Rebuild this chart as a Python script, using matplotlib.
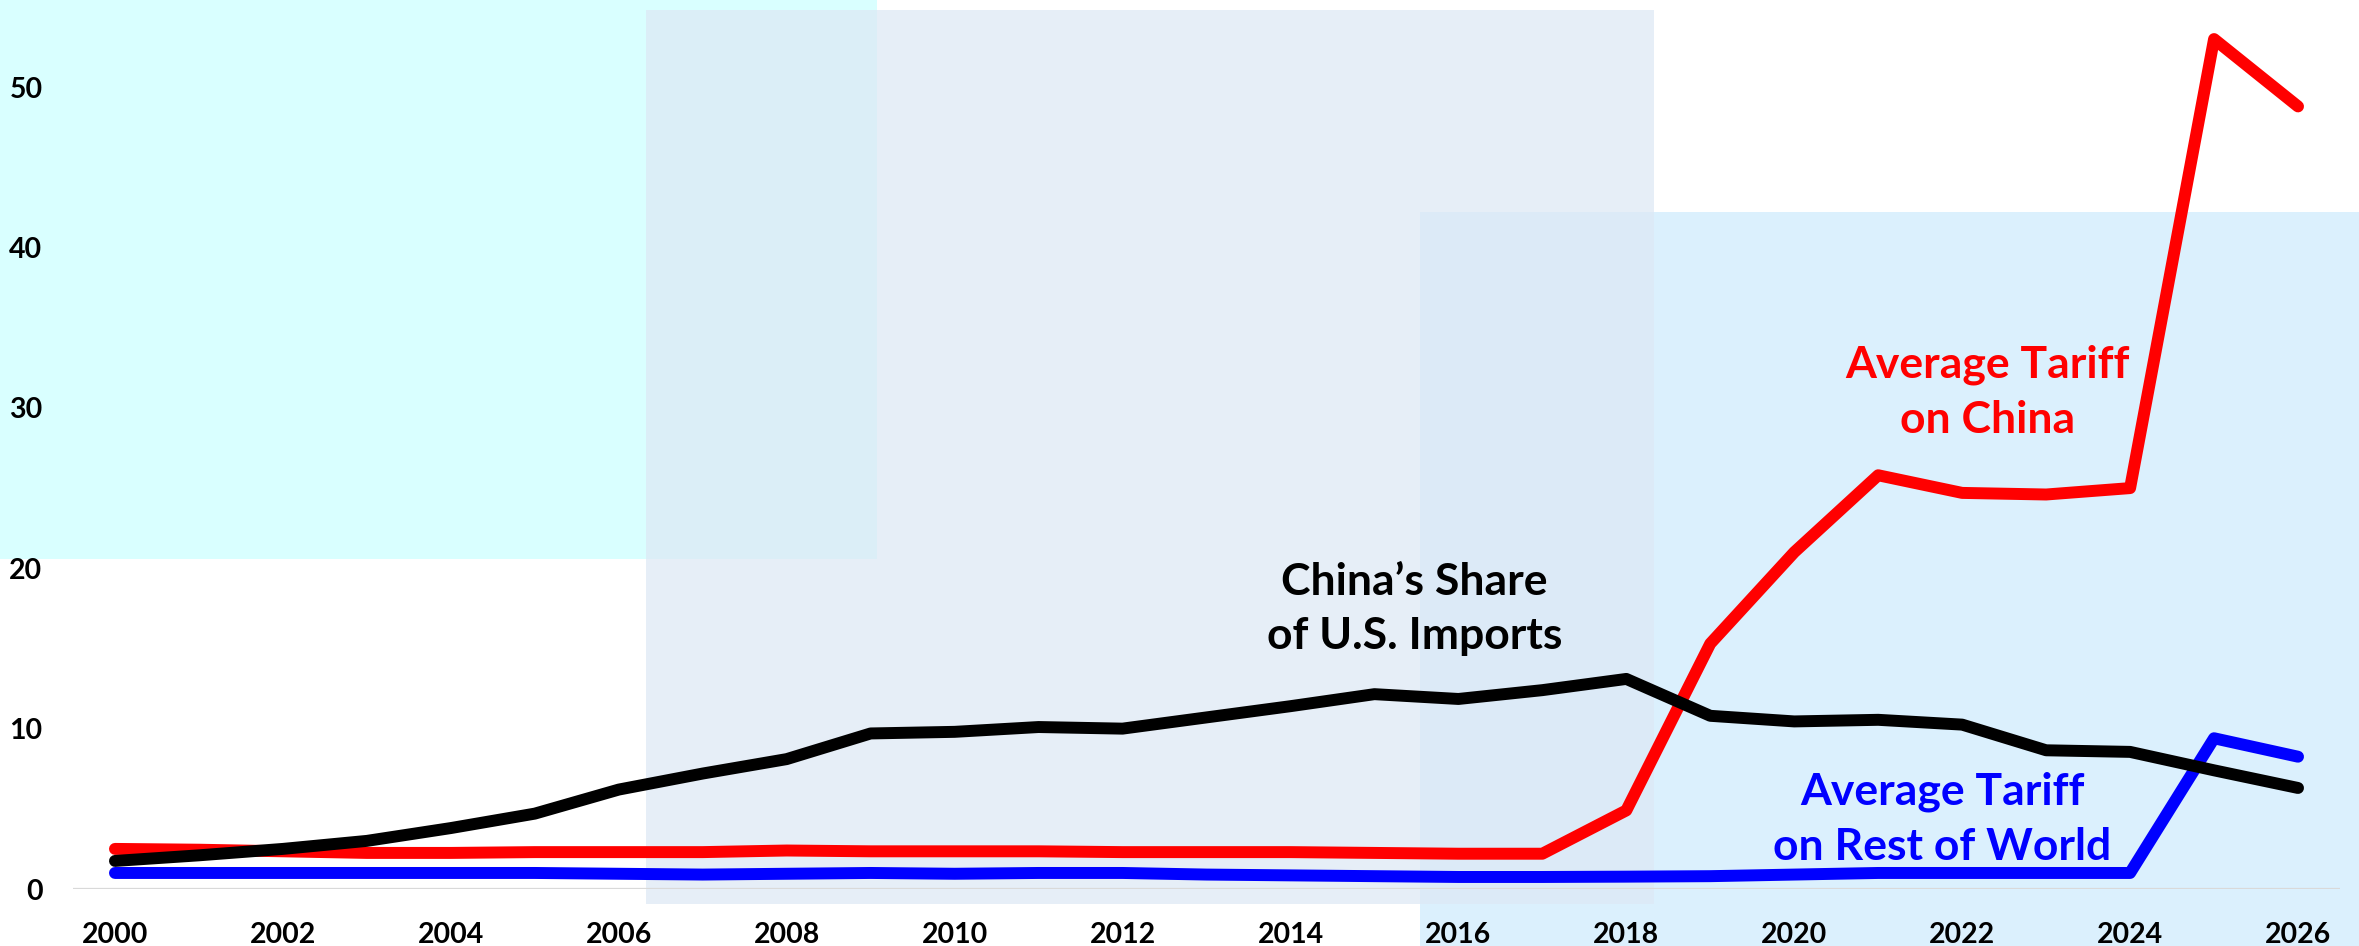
import matplotlib
matplotlib.use('Agg')
import matplotlib.pyplot as plt
from matplotlib.patches import Rectangle

# fonts
plt.rcParams['font.family'] = ['Lato', 'DejaVu Sans']
plt.rcParams['font.weight'] = 'bold'

# data
years = list(range(2000, 2027))
tariff_china = [2.5, 2.45, 2.35, 2.25, 2.25, 2.3, 2.3, 2.3, 2.4, 2.35, 2.35, 2.35, 2.3,
                2.3, 2.3, 2.25, 2.2, 2.2, 4.9, 15.3, 21.0, 25.8, 24.7, 24.6, 25.0, 53.0, 48.8]
china_share = [1.75, 2.1, 2.5, 3.0, 3.8, 4.7, 6.2, 7.2, 8.1, 9.7, 9.8, 10.1, 10.0,
               10.7, 11.4, 12.15, 11.85, 12.4, 13.1, 10.8, 10.45, 10.55, 10.25, 8.65, 8.55, 7.4, 6.3]
tariff_row = [1.0, 1.0, 1.0, 1.0, 1.0, 1.0, 0.95, 0.9, 0.95, 1.0, 0.95, 1.0, 1.0,
              0.9, 0.85, 0.8, 0.75, 0.75, 0.77, 0.8, 0.9, 1.0, 1.0, 1.0, 1.0, 9.4, 8.25]
yticks = [0, 10, 20, 30, 40, 50]
xticks = list(range(2000, 2027, 2))

W, H = 2359, 946
fig = plt.figure(figsize=(W / 100, H / 100), dpi=100)

# background panels (pixel boxes -> figure fractions)
def add_box(x0, y0, x1, y1, color, alpha, z):
    r = Rectangle((x0 / W, 1 - y1 / H), (x1 - x0) / W, (y1 - y0) / H,
                  transform=fig.transFigure, facecolor=color, edgecolor='none',
                  alpha=alpha, zorder=z)
    fig.add_artist(r)

add_box(0, 0, 877, 559, '#D9FFFF', 1.0, -3)
add_box(1420, 212, 2359, 946, '#DBF0FD', 1.0, -2)
add_box(646, 10, 1654, 904, '#DDE8F5', 0.71, -1)

ax = fig.add_axes([73 / W, 1 - 889 / H, (2340 - 73) / W, (889 - 7) / H])
ax.patch.set_alpha(0)

ax.axhline(0, color='#D9D9D9', lw=1.6, zorder=1)
lw = 8.6
ax.plot(years, tariff_row, color='#0000FF', lw=lw, solid_capstyle='round', solid_joinstyle='round', zorder=2)
ax.plot(years, tariff_china, color='#FF0000', lw=lw, solid_capstyle='round', solid_joinstyle='round', zorder=3)
ax.plot(years, china_share, color='black', lw=lw, solid_capstyle='round', solid_joinstyle='round', zorder=4)

ax.set_xlim(1999.5, 2026.5)
ax.set_ylim(0, 55)
ax.set_xticks(xticks)
ax.set_yticks(yticks)
ax.tick_params(axis='both', length=0, labelsize=20.5)
ax.tick_params(axis='x', pad=24)
ax.tick_params(axis='y', pad=22)
for lab in ax.get_xticklabels() + ax.get_yticklabels():
    lab.set_fontweight('bold')
for s in ax.spines.values():
    s.set_visible(False)

ax.text(2022.30, 31.0, 'Average Tariff\non China', color='#FF0000', fontsize=32,
        fontweight='bold', ha='center', va='center', linespacing=1.45)
ax.text(2021.76, 4.33, 'Average Tariff\non Rest of World', color='#0000FF', fontsize=32,
        fontweight='bold', ha='center', va='center', linespacing=1.45)
ax.text(2015.48, 17.46, 'China\u2019s Share\nof U.S. Imports', color='black', fontsize=32,
        fontweight='bold', ha='center', va='center', linespacing=1.45)

fig.savefig('out.png', dpi=100)
